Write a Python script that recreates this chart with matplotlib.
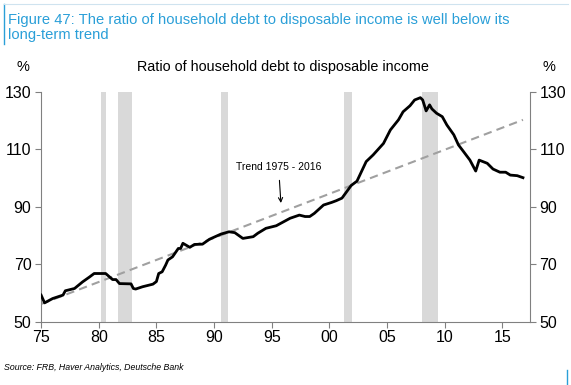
import numpy as np
import matplotlib
matplotlib.use("Agg")
import matplotlib.pyplot as plt

plt.rcParams['font.family'] = ['Liberation Sans', 'DejaVu Sans']

# household debt / disposable income
years = [1975.0, 1975.3, 1976.0, 1976.9, 1977.1, 1977.9, 1978.6, 1979.2, 1979.6,
         1980.6, 1981.2, 1981.5, 1981.8, 1982.8, 1983.0, 1983.2, 1983.8, 1984.7,
         1985.0, 1985.2, 1985.5, 1985.8, 1986.0, 1986.4, 1986.9, 1987.1, 1987.3,
         1987.9, 1988.3, 1989.0, 1989.6, 1990.6, 1991.3, 1991.8, 1992.5, 1993.4,
         1993.8, 1994.5, 1995.4, 1996.6, 1997.4, 1997.9, 1998.3, 1998.7, 1999.5,
         2000.2, 2000.6, 2001.1, 2001.5, 2001.9, 2002.4, 2003.2, 2003.8, 2004.7,
         2005.3, 2006.0, 2006.4, 2007.0, 2007.4, 2007.9, 2008.1, 2008.4, 2008.7,
         2008.9, 2009.3, 2009.8, 2010.2, 2010.8, 2011.2, 2011.6, 2012.2, 2012.7,
         2013.0, 2013.7, 2014.2, 2014.8, 2015.3, 2015.7, 2016.3, 2016.8]
ratio = [59.3, 56.6, 58.1, 59.3, 60.8, 61.6, 63.9, 65.6, 66.8,
         66.8, 64.7, 64.7, 63.3, 63.2, 61.6, 61.4, 62.2, 63.1,
         64.0, 66.8, 67.4, 69.7, 71.5, 72.6, 75.5, 75.5, 77.3,
         75.9, 76.9, 77.0, 78.7, 80.5, 81.3, 81.0, 79.0, 79.6,
         80.8, 82.5, 83.4, 86.0, 87.1, 86.6, 86.6, 87.7, 90.6,
         91.5, 92.1, 93.0, 95.2, 97.4, 98.9, 105.7, 108.0, 112.0,
         116.7, 120.2, 123.0, 125.1, 127.1, 127.9, 127.1, 123.3, 125.4,
         124.0, 122.5, 121.3, 118.4, 115.0, 111.5, 109.4, 106.2, 102.4,
         106.2, 105.1, 103.1, 102.0, 102.0, 101.0, 100.8, 100.1]

trend_x = [1975.0, 2016.8]
trend_y = [56.2, 120.2]

# recession periods
rec_start = [1980.2, 1981.7, 1990.6, 2001.3, 2008.0]
rec_end = [1980.6, 1982.9, 1991.2, 2002.0, 2009.4]

xticks = [1975, 1980, 1985, 1990, 1995, 2000, 2005, 2010, 2015]
xlabels = ['75', '80', '85', '90', '95', '00', '05', '10', '15']
yticks = [50, 70, 90, 110, 130]

fig = plt.figure(figsize=(5.71, 3.85), dpi=100)
ax = fig.add_axes([0.072, 0.164, 0.856, 0.598])

for s, e in zip(rec_start, rec_end):
    ax.axvspan(s, e, color='#d9d9d9', lw=0, zorder=0)

ax.plot(trend_x, trend_y, color='#a0a0a0', lw=1.5, ls=(0, (4, 2.5)), zorder=2)
ax.plot(years, ratio, color='black', lw=2.0, zorder=3)

ax.annotate('Trend 1975 - 2016', xy=(1995.8, 91.3), xytext=(1995.6, 103.8),
            ha='center', va='center', fontsize=7.5,
            arrowprops=dict(arrowstyle='->', color='black', lw=0.8,
                            shrinkA=4, shrinkB=0))

ax.set_xlim(1975, 2017.4)
ax.set_ylim(50, 130)
ax.set_xticks(xticks)
ax.set_xticklabels(xlabels)
ax.set_yticks(yticks)
ax.tick_params(axis='both', labelsize=11.5, color='#808080', length=4, width=0.8)
ax.tick_params(axis='y', right=True, labelright=True, pad=3)
ax.tick_params(axis='x', pad=2)
for side in ['left', 'right', 'bottom']:
    ax.spines[side].set_color('#808080')
    ax.spines[side].set_linewidth(0.8)
ax.spines['top'].set_visible(False)

fig.text(0.014, 0.967, 'Figure 47: The ratio of household debt to disposable income is well below its\nlong-term trend',
         color='#2a9fd8', fontsize=10.6, va='top', ha='left', linespacing=1.12)
fig.add_artist(plt.Line2D([0.007, 0.007], [0.885, 0.99], color='#2a9fd8', lw=1.0))
fig.add_artist(plt.Line2D([0.007, 0.995], [0.99, 0.99], color='#cfe3ef', lw=0.8))
fig.add_artist(plt.Line2D([0.993, 0.993], [0.0, 0.04], color='#2a9fd8', lw=1.0))

fig.text(0.496, 0.826, 'Ratio of household debt to disposable income', fontsize=10.4,
         ha='center', va='center')
fig.text(0.040, 0.826, '%', fontsize=10.5, ha='center', va='center')
fig.text(0.961, 0.826, '%', fontsize=10.5, ha='center', va='center')
fig.text(0.007, 0.045, 'Source: FRB, Haver Analytics, Deutsche Bank', fontsize=6.3,
         style='italic', ha='left', va='center')

fig.savefig('out.png', dpi=100)
